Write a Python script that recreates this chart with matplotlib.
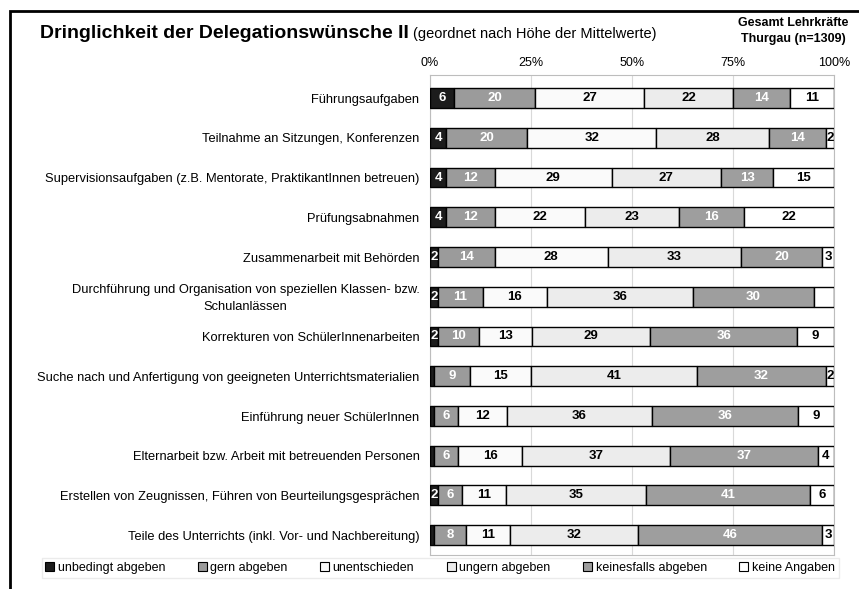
import numpy as np
import matplotlib
matplotlib.use("Agg")
import matplotlib.pyplot as plt
from matplotlib.patches import Rectangle, Patch

plt.rcParams['font.family'] = ['Liberation Sans', 'DejaVu Sans']

# --- data (percent per answer category, top row first) ---
categories = [
    "Führungsaufgaben",
    "Teilnahme an Sitzungen, Konferenzen",
    "Supervisionsaufgaben (z.B. Mentorate, PraktikantInnen betreuen)",
    "Prüfungsabnahmen",
    "Zusammenarbeit mit Behörden",
    "Durchführung und Organisation von speziellen Klassen- bzw.\nSchulanlässen",
    "Korrekturen von SchülerInnenarbeiten",
    "Suche nach und Anfertigung von geeigneten Unterrichtsmaterialien",
    "Einführung neuer SchülerInnen",
    "Elternarbeit bzw. Arbeit mit betreuenden Personen",
    "Erstellen von Zeugnissen, Führen von Beurteilungsgesprächen",
    "Teile des Unterrichts (inkl. Vor- und Nachbereitung)",
]
unbedingt = [6, 4, 4, 4, 2, 2, 2, 1, 1, 1, 2, 1]
gern = [20, 20, 12, 12, 14, 11, 10, 9, 6, 6, 6, 8]
unentschieden = [27, 32, 29, 22, 28, 16, 13, 15, 12, 16, 11, 11]
ungern = [22, 28, 27, 23, 33, 36, 29, 41, 36, 37, 35, 32]
keinesfalls = [14, 14, 13, 16, 20, 30, 36, 32, 36, 37, 41, 46]
keine_angaben = [11, 2, 15, 22, 3, 5, 9, 2, 9, 4, 6, 3]
# segments whose value label is not printed in the original
hidden_labels = [(5, 5)]

series_names = ["unbedingt abgeben", "gern abgeben", "unentschieden",
                "ungern abgeben", "keinesfalls abgeben", "keine Angaben"]
series = [unbedingt, gern, unentschieden, ungern, keinesfalls, keine_angaben]
colors = ["#1c1c1c", "#9b9b9b", "#fafafa", "#ececec", "#9e9e9e", "#ffffff"]
text_colors = ["white", "white", "black", "black", "white", "black"]
xticks = [0, 25, 50, 75, 100]
xtick_labels = ["0%", "25%", "50%", "75%", "100%"]

W, H = 859, 589
fig = plt.figure(figsize=(W / 100, H / 100), dpi=100)
ax = fig.add_axes([430 / W, 1 - 555 / H, 404 / W, 480 / H])

data = np.array(series, dtype=float)          # (series, rows)
totals = data.sum(axis=0)
shares = data / totals * 100                  # rows fill 100 %

y = np.arange(len(categories))
left = np.zeros(len(categories))
for k, col in enumerate(colors):
    ax.barh(y, shares[k], left=left, height=0.5, color=col, edgecolor="black",
            linewidth=1.0, label=series_names[k], zorder=3)
    for i in range(len(categories)):
        v = data[k, i]
        if v < 2 or (i, k) in hidden_labels:
            continue
        ax.text(left[i] + shares[k, i] / 2, y[i], f"{int(v)}", ha="center",
                va="center", fontsize=9.5, fontweight="bold",
                color=text_colors[k], zorder=4)
    left += shares[k]

ax.set_xlim(0, 100)
ax.set_ylim(11.5, -0.58)
ax.set_yticks(y)
ax.set_yticklabels([])
ax.tick_params(axis="y", length=0)
for i, name in enumerate(categories):
    ax.text(-2.6, y[i] + 0.04, name, ha="right", va="center", fontsize=9.3,
            multialignment="center", linespacing=1.55)
ax.xaxis.tick_top()
ax.set_xticks(xticks)
ax.set_xticklabels(xtick_labels, fontsize=9)
ax.tick_params(axis="x", length=0, pad=4)
ax.grid(axis="x", color="#d9d9d9", linewidth=0.8, zorder=0)
for s in ax.spines.values():
    s.set_color("#bdbdbd")
    s.set_linewidth(0.8)

# outer frame (cut at right and bottom like the scan)
fig.patches.append(Rectangle((10 / W, -0.2), 1.3, 1.2 - 11 / H,
                             transform=fig.transFigure, fill=False,
                             edgecolor="black", linewidth=2.0))

# title + subtitle
t = fig.text(40 / W, 1 - 38 / H, "Dringlichkeit der Delegationswünsche II",
             fontsize=14, fontweight="bold", ha="left", va="baseline")
fig.canvas.draw()
bb = t.get_window_extent()
fig.text(bb.x1 / W + 4 / W, 1 - 38 / H, "(geordnet nach Höhe der Mittelwerte)",
         fontsize=10.5, ha="left", va="baseline")
fig.text(793 / W, 1 - 31 / H, "Gesamt Lehrkräfte\nThurgau (n=1309)",
         fontsize=9, fontweight="bold", ha="center", va="center", linespacing=1.55)

# legend
handles = [Patch(facecolor=c, edgecolor="black", linewidth=0.8) for c in colors]
leg = fig.legend(handles, series_names, loc="center", ncol=6,
                 bbox_to_anchor=(440 / W, 1 - 568 / H), fontsize=9,
                 frameon=True, fancybox=False, edgecolor="#e6e6e6",
                 handlelength=0.7, handleheight=0.7, handletextpad=0.3,
                 columnspacing=2.6, borderpad=0.3)

fig.savefig("out.png", dpi=100)
